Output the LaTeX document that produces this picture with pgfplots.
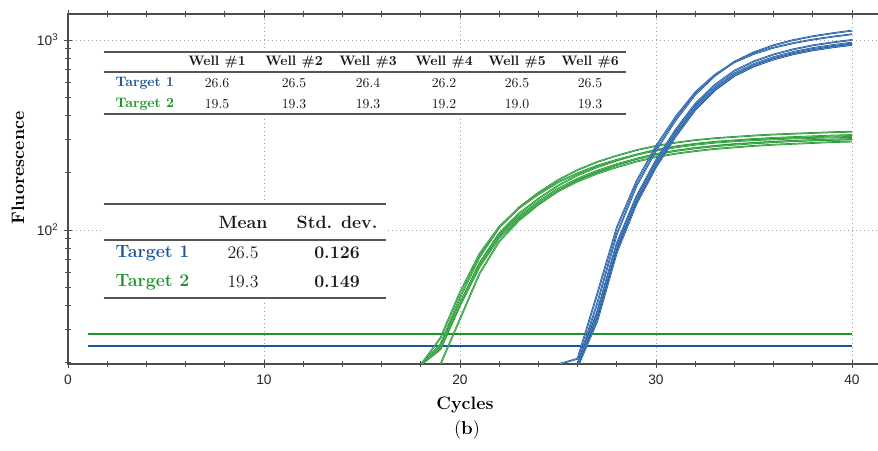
\documentclass[border=0pt]{standalone}
\usepackage{fontspec}
\setsansfont{Liberation Sans}
\usepackage{pgfplots}
\pgfplotsset{compat=1.18}
\definecolor{tblue}{HTML}{1A559C}
\definecolor{tgreen}{HTML}{1B9428}
\definecolor{lblue}{HTML}{6E9BD0}
\definecolor{lgreen}{HTML}{72C47C}
\definecolor{rulegray}{HTML}{555555}
\newcommand\tA{\fontsize{10.3}{12}\selectfont}
\newcommand\tB{\fontsize{13.3}{15}\selectfont}
\pgfplotsset{
  bcurve/.style={draw=tblue, line width=0.45pt, double=lblue, double distance=0.4pt},
  gcurve/.style={draw=tgreen, line width=0.45pt, double=lgreen, double distance=0.4pt},
}
\begin{document}
\begin{tikzpicture}
\begin{axis}[at={(0,0)}, anchor=south west, scale only axis,
  width=611.5pt, height=262.5pt,
  xmin=0, xmax=41.6, ymode=log, ymin=19.7, ymax=1370,
  xtick={0,10,20,30,40}, xticklabels={0,10,20,30,40},
  minor x tick num=4,
  ytick={100,1000}, yticklabels={10\textsuperscript{2},10\textsuperscript{3}},
  minor ytick={20,30,40,50,60,70,80,90,200,300,400,500,600,700,800,900},
  ytick pos=left,
  grid=major, major grid style={dash pattern=on 0.8pt off 2.2pt, gray!75, line width=0.6pt},
  tick align=center, major tick length=5.5pt, minor tick length=4pt,
  every tick/.style={black!70, line width=0.6pt},
  axis line style={black!70, line width=0.8pt},
  ticklabel style={font=\sffamily\fontsize{10.3}{12}\selectfont, text=black!85},
  xticklabel style={yshift=-2pt},
  yticklabel style={xshift=-1pt},
]
% thresholds
\addplot[tgreen, line width=1.5pt] coordinates {(1,28.4) (40,28.4)};
\addplot[tblue, line width=1.5pt] coordinates {(1,24.6) (40,24.6)};
% Target 2 (green) wells
\addplot[gcurve] coordinates {(19,19.6)(20,34)(21,59)(22,87)(23,112)(24,136)(25,160)(26,182)(27,202)(28,220)(29,236)(30,250)(31,261)(32,270)(33,277)(34,283)(35,287)(36,291)(37,294)(38,296)(39,298)(40,300)};
\addplot[gcurve] coordinates {(18,19.5)(19,24)(20,41)(21,67)(22,96)(23,122)(24,146)(25,171)(26,194)(27,214)(28,232)(29,249)(30,264)(31,275)(32,284)(33,291)(34,296)(35,301)(36,305)(37,308)(38,311)(39,314)(40,316)};
\addplot[gcurve] coordinates {(18,19.5)(19,23.5)(20,40)(21,64)(22,91)(23,115)(24,137)(25,160)(26,180)(27,198)(28,214)(29,229)(30,242)(31,252)(32,260)(33,267)(34,272)(35,277)(36,281)(37,284)(38,287)(39,290)(40,292)};
\addplot[gcurve] coordinates {(18,19.5)(19,25)(20,44)(21,72)(22,103)(23,131)(24,157)(25,183)(26,207)(27,228)(28,246)(29,263)(30,277)(31,288)(32,297)(33,304)(34,309)(35,314)(36,318)(37,321)(38,324)(39,327)(40,329)};
\addplot[gcurve] coordinates {(18,19.5)(19,27)(20,47)(21,75)(22,104)(23,130)(24,154)(25,178)(26,199)(27,218)(28,234)(29,249)(30,262)(31,272)(32,281)(33,288)(34,293)(35,297)(36,300)(37,303)(38,305)(39,307)(40,309)};
\addplot[gcurve] coordinates {(18,19.5)(19,24)(20,41)(21,66)(22,94)(23,118)(24,141)(25,165)(26,186)(27,205)(28,222)(29,237)(30,251)(31,261)(32,269)(33,276)(34,281)(35,286)(36,290)(37,294)(38,297)(39,299)(40,301)};
% Target 1 (blue) wells
\addplot[bcurve] coordinates {(26,19)(27,33)(28,76)(29,137)(30,214)(31,310)(32,428)(33,543)(34,647)(35,727)(36,792)(37,843)(38,884)(39,918)(40,948)};
\addplot[bcurve] coordinates {(26,19.5)(27,37)(28,85)(29,150)(30,233)(31,337)(32,461)(33,580)(34,689)(35,772)(36,839)(37,893)(38,937)(39,971)(40,1000)};
\addplot[bcurve] coordinates {(26,19.6)(27,41)(28,95)(29,170)(30,262)(31,378)(32,515)(33,648)(34,768)(35,862)(36,938)(37,998)(38,1046)(39,1085)(40,1120)};
\addplot[bcurve] coordinates {(25,19.6)(26,21)(27,46)(28,103)(29,180)(30,276)(31,394)(32,530)(33,656)(34,763)(35,845)(36,911)(37,962)(38,1005)(39,1040)(40,1072)};
\addplot[bcurve] coordinates {(26,19.5)(27,35)(28,80)(29,142)(30,220)(31,318)(32,435)(33,548)(34,650)(35,728)(36,791)(37,842)(38,883)(39,915)(40,942)};
\addplot[bcurve] coordinates {(26,19.5)(27,36)(28,82)(29,146)(30,226)(31,326)(32,447)(33,562)(34,667)(35,747)(36,812)(37,864)(38,906)(39,939)(40,968)};
\end{axis}
\begin{scope}[x=0.75pt, y=-0.75pt, shift={(-51pt,273pt)}]
% table 1
\fill[white] (104,50) rectangle (626,116);
\draw[rulegray, line width=0.9pt] (104,52) -- (626,52) (104,72) -- (626,72) (104,114) -- (626,114);
\foreach \xx/\lab in {217/1,294/2,368/3,444/4,517/5,590/6}
  \node[font=\tA\bfseries, text=black!90] at (\xx,62) {Well \#\lab};
\node[font=\tA\bfseries, text=tblue, anchor=west] at (111,83) {Target 1};
\node[font=\tA\bfseries, text=tgreen, anchor=west] at (111,104) {Target 2};
\foreach \xx/\a/\b in {217/26.6/19.5,294/26.5/19.3,368/26.4/19.3,444/26.2/19.2,517/26.5/19.0,590/26.5/19.3}{
  \node[font=\tA, text=black!90] at (\xx,83) {\a};
  \node[font=\tA, text=black!90] at (\xx,104) {\b};
}
% table 2
\fill[white] (104,202) rectangle (386,300);
\draw[rulegray, line width=0.9pt] (104,204) -- (386,204) (104,240) -- (386,240) (104,298) -- (386,298);
\node[font=\tB\bfseries, text=black!90] at (243,222) {Mean};
\node[font=\tB\bfseries, text=black!90] at (337,222) {Std. dev.};
\node[font=\tB\bfseries, text=tblue, anchor=west] at (111,253) {Target 1};
\node[font=\tB\bfseries, text=tgreen, anchor=west] at (111,282) {Target 2};
\node[font=\tB, text=black!90] at (243,253) {26.5};
\node[font=\tB, text=black!90] at (243,282) {19.3};
\node[font=\tB\bfseries, text=black!90] at (337,253) {0.126};
\node[font=\tB\bfseries, text=black!90] at (337,282) {0.149};
% labels
\node[font=\fontsize{13.5}{15}\selectfont\bfseries, rotate=90] at (18,168) {Fluorescence};
\node[font=\fontsize{13.5}{15}\selectfont\bfseries] at (465,405) {Cycles};
\node[font=\fontsize{14}{16}\selectfont] at (467,430) {(\textbf{b})};
\pgfresetboundingbox
\useasboundingbox (0,0) rectangle (878,450);
\end{scope}
\end{tikzpicture}
\end{document}
